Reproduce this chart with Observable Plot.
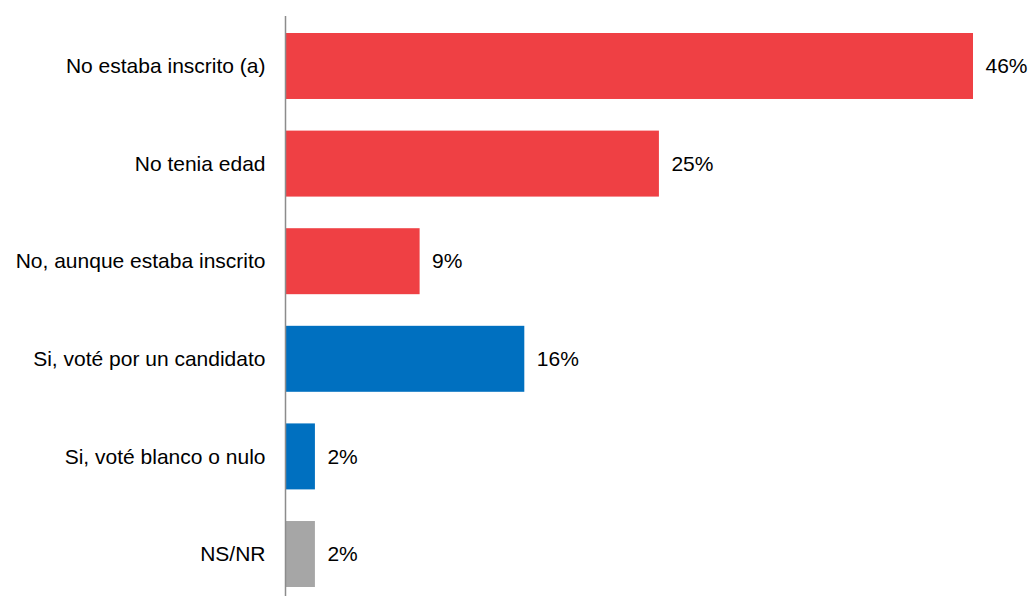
<!DOCTYPE html>
<html>
<head>
<meta charset="utf-8">
<script src="https://cdn.jsdelivr.net/npm/d3@7"></script>
<script src="https://cdn.jsdelivr.net/npm/@observablehq/plot@0.6"></script>
<style>
  html, body { margin: 0; padding: 0; background: #fff; }
  #chart svg { display: block; }
</style>
</head>
<body>
<div id="chart"></div>
<script>
const categories = [
  "No estaba inscrito (a)",
  "No tenia edad",
  "No, aunque estaba inscrito",
  "Si, voté por un candidato",
  "Si, voté blanco o nulo",
  "NS/NR"
];
const values = [46, 25, 9, 16, 2, 2];
const groups = ["no", "no", "no", "si", "si", "ns"];
const groupColors = {no: "#EF4044", si: "#0070C0", ns: "#A6A6A6"};

const data = categories.map((c, i) => ({category: c, value: values[i], group: groups[i]}));

const chart = Plot.plot({
  width: 1032,
  height: 596,
  marginLeft: 285,
  marginRight: 59,
  marginTop: 16,
  marginBottom: 0,
  style: {fontFamily: "'Liberation Sans', Arial, sans-serif", background: "#fff"},
  x: {domain: [0, 46], axis: null},
  y: {domain: categories, axis: null, range: [33, 587], paddingInner: 0.324, paddingOuter: 0, round: false},
  color: {domain: Object.keys(groupColors), range: Object.values(groupColors)},
  marks: [
    Plot.barX(data, {x: "value", y: "category", fill: d => groupColors[d.group]}),
    Plot.ruleX([0], {stroke: "#8C8C8C", strokeWidth: 1.5}),
    Plot.text(data, {x: 0, y: "category", text: "category", textAnchor: "end", dx: -20, fontSize: 21, fill: "#000"}),
    Plot.text(data, {x: "value", y: "category", text: d => d.value + "%", textAnchor: "start", dx: 12, fontSize: 21, fill: "#000"})
  ]
});
document.getElementById("chart").appendChild(chart);
</script>
</body>
</html>
